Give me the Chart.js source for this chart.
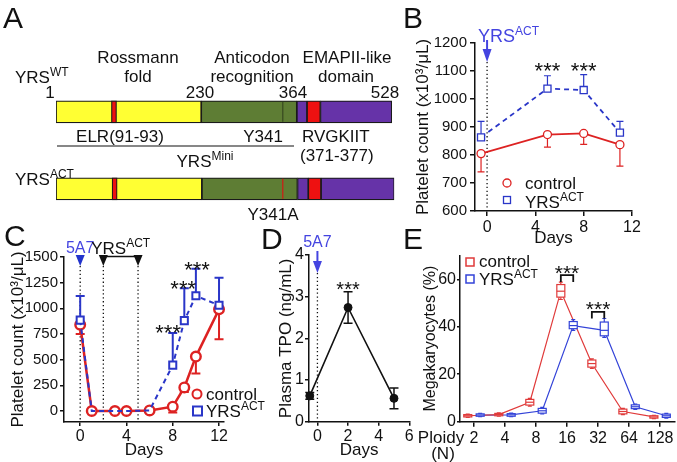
<!DOCTYPE html>
<html><head><meta charset="utf-8">
<script src="https://cdn.jsdelivr.net/npm/chart.js@4.4.1/dist/chart.umd.min.js"></script>
<style>
html,body{margin:0;padding:0;background:#fff;}
#wrap{position:relative;width:677px;height:462px;overflow:hidden;background:#fff;}
#wrap canvas{position:absolute;left:0;top:0;width:677px;height:462px;}
</style></head><body>
<div id="wrap">
<canvas id="cA" width="677" height="462"></canvas>
<canvas id="cB" width="677" height="462"></canvas>
<canvas id="cC" width="677" height="462"></canvas>
<canvas id="cD" width="677" height="462"></canvas>
<canvas id="cE" width="677" height="462"></canvas>
</div>
<script>
// ---------------- DATA ----------------
// Panel A: domain map (diagram units ~ residue numbers)
const A_rows = ['YRS WT', 'YRS ACT'];
const A_yellow = [[1, 229], [1, 230]];
const A_elr = [[88, 96], [89, 97]];
const A_green = [[229, 379], [230, 380]];
const A_purple1 = [[379, 395], [380, 397]];
const A_rvg = [[395, 416], [397, 417]];
const A_purple2 = [[416, 528], [417, 532]];
const A_mark = [357, 357];

// Panel B
const B_days = [-0.5, 5, 8, 11];
const B_ctrl = [805, 873, 877, 837];
const B_ctrlErrLo = [65, 45, 39, 77];
const B_yrs = [863, 1037, 1032, 880];
const B_yrsErrHi = [57, 46, 55, 40];
const B_starDays = [5, 8];
const B_yTicks = [600, 700, 800, 900, 1000, 1100, 1200];
const B_xTicks = [0, 4, 8, 12];

// Panel C
const C_days = [0, 1, 3, 4, 6, 8, 9, 10, 12];
const C_ctrl = [840, 0, 0, 0, 6, 42, 230, 530, 990];
const C_ctrlErrLo = [90, 0, 0, 0, 0, 57, 45, 165, 290];
const C_yrs = [885, 0, 0, 0, 6, 447, 880, 1122, 1030];
const C_yrsErrHi = [235, 0, 0, 0, 0, 313, 315, 263, 267];
const C_starDays = [7.6, 8.9, 10.1];
const C_starVals = [810, 1245, 1430];
const C_dose5A7 = [0];
const C_doseYRS = [2, 5];
const C_yTicks = [0, 250, 500, 750, 1000, 1250, 1500];
const C_xTicks = [0, 4, 8, 12];

// Panel D
const D_days = [-0.5, 2, 5];
const D_tpo = [0.62, 2.74, 0.56];
const D_err = [0.08, 0.38, 0.25];
const D_yTicks = [0, 1, 2, 3, 4];
const D_xTicks = [0, 2, 4, 6];

// Panel E
const E_ploidy = [2, 4, 8, 16, 32, 64, 128];
const E_ctrlMed = [2.5, 3.0, 8.2, 55.0, 24.5, 4.3, 2.0];
const E_ctrlQ1 = [2.0, 2.5, 7.0, 52.5, 23.0, 3.3, 1.5];
const E_ctrlQ3 = [3.0, 3.5, 9.4, 57.8, 26.0, 5.3, 2.5];
const E_ctrlLo = [1.8, 2.3, 6.6, 51.5, 22.5, 3.0, 1.3];
const E_ctrlHi = [3.2, 3.7, 9.8, 58.8, 26.5, 5.6, 2.7];
const E_yrsMed = [2.8, 2.9, 4.6, 40.5, 38.5, 6.3, 2.5];
const E_yrsQ1 = [2.3, 2.3, 3.6, 39.2, 36.2, 5.5, 1.8];
const E_yrsQ3 = [3.3, 3.4, 5.6, 42.2, 42.0, 7.1, 3.2];
const E_yrsLo = [2.1, 2.1, 3.3, 38.5, 35.5, 5.2, 1.5];
const E_yrsHi = [3.5, 3.6, 6.0, 43.0, 43.5, 7.4, 3.5];
const E_starPloidy = [16, 32];
const E_yTicks = [0, 20, 40, 60];

// ---------------- STYLE / HELPERS ----------------
const FF = "'Liberation Sans', Arial, Helvetica, sans-serif";
Chart.defaults.font.family = FF;
Chart.defaults.color = '#111';
Chart.defaults.animation = false;
Chart.defaults.events = [];
Chart.defaults.plugins.legend.display = false;
Chart.defaults.plugins.tooltip.enabled = false;
const W_ = 677, H_ = 462;
const RED = '#dd2222', BLUE = '#2a36c8', TBLUE = '#4444e0', INK = '#111';
const RED_E = '#e03a3a', BLUE_E = '#3343d8';

function frame(area, yTitleX, xTitleY, tsize) {
  const lh = tsize * 1.2;
  const L = yTitleX - lh / 2;
  const Pb = H_ - xTitleY - lh / 2;
  return {padding: {left: L, top: area.t, right: W_ - area.r, bottom: Pb}, yW: area.l - L, xH: H_ - Pb - area.b};
}
function fixedTicks(vals) { return function (scale) { scale.ticks = vals.map(v => ({value: v})); }; }
function gridOpts(tl) { return {display: true, drawOnChartArea: false, drawTicks: true, tickLength: tl, color: INK, lineWidth: 1.5}; }
function axisX(f, min, max, ticks, title, tl, pad, fsize, fmt) {
  return {
    type: 'linear', min: min, max: max,
    afterBuildTicks: fixedTicks(ticks),
    afterFit: s => { s.height = f.xH; },
    grid: gridOpts(tl), border: {display: true, color: INK, width: 1.5},
    ticks: {font: {size: fsize}, padding: pad, color: INK, maxRotation: 0, autoSkip: false, callback: fmt || (v => String(v))},
    title: title ? {display: true, text: title, font: {size: 17}, padding: 0, color: INK} : {display: false}
  };
}
function axisY(f, min, max, ticks, title, tl, pad, fsize, tsize) {
  return {
    type: 'linear', min: min, max: max,
    afterBuildTicks: fixedTicks(ticks),
    afterFit: s => { s.width = f.yW; },
    grid: gridOpts(tl), border: {display: true, color: INK, width: 1.5},
    ticks: {font: {size: fsize}, padding: pad, color: INK, autoSkip: false, callback: v => String(v)},
    title: {display: true, text: title, font: {size: tsize || 17}, padding: 0, color: INK}
  };
}
function txt(ctx, s, x, y, size, align, color, weight) {
  ctx.save();
  ctx.font = (weight || '') + ' ' + size + 'px ' + FF;
  ctx.fillStyle = color || INK; ctx.textAlign = align || 'left'; ctx.textBaseline = 'alphabetic';
  ctx.fillText(s, x, y);
  ctx.restore();
}
function supText(ctx, x, y, base, sup, size, align, color) {
  ctx.save();
  ctx.fillStyle = color || INK; ctx.textBaseline = 'alphabetic'; ctx.textAlign = 'left';
  const ss = Math.round(size * 0.68);
  ctx.font = size + 'px ' + FF; const wb = ctx.measureText(base).width;
  ctx.font = ss + 'px ' + FF; const ws = ctx.measureText(sup).width;
  const tot = wb + ws;
  const x0 = align === 'center' ? x - tot / 2 : (align === 'right' ? x - tot : x);
  ctx.font = size + 'px ' + FF; ctx.fillText(base, x0, y);
  ctx.font = ss + 'px ' + FF; ctx.fillText(sup, x0 + wb, y - size * 0.4);
  ctx.restore();
}
function stars(ctx, x, cy, size) {
  ctx.save();
  ctx.font = size + 'px ' + FF; ctx.fillStyle = INK; ctx.textAlign = 'center'; ctx.textBaseline = 'alphabetic';
  ctx.fillText('***', x, cy + 0.57 * size);
  ctx.restore();
}
function vDotted(ctx, x, y1, y2) {
  ctx.save(); ctx.strokeStyle = INK; ctx.lineWidth = 1.3; ctx.setLineDash([1.3, 2.6]);
  ctx.beginPath(); ctx.moveTo(x, y1); ctx.lineTo(x, y2); ctx.stroke(); ctx.restore();
}
function triDown(ctx, x, yTop, yTip, halfW, color) {
  ctx.save(); ctx.fillStyle = color; ctx.beginPath();
  ctx.moveTo(x - halfW, yTop); ctx.lineTo(x + halfW, yTop); ctx.lineTo(x, yTip); ctx.closePath(); ctx.fill(); ctx.restore();
}
function arrowDown(ctx, x, y0, yBase, yTip, halfW, color) {
  ctx.save(); ctx.strokeStyle = color; ctx.lineWidth = 2; ctx.beginPath(); ctx.moveTo(x, y0); ctx.lineTo(x, yBase + 1); ctx.stroke(); ctx.restore();
  triDown(ctx, x, yBase, yTip, halfW, color);
}
function errBars(chart, xs, ys, lo, hi, color, lw, capHalf) {
  const ctx = chart.ctx, sx = chart.scales.x, sy = chart.scales.y;
  ctx.save(); ctx.strokeStyle = color; ctx.lineWidth = lw; ctx.setLineDash([]);
  xs.forEach((xv, i) => {
    const px = sx.getPixelForValue(xv), pc = sy.getPixelForValue(ys[i]);
    const segs = [];
    if (hi && hi[i] > 0) segs.push(sy.getPixelForValue(ys[i] + hi[i]));
    if (lo && lo[i] > 0) segs.push(sy.getPixelForValue(ys[i] - lo[i]));
    segs.forEach(pe => {
      ctx.beginPath(); ctx.moveTo(px, pc); ctx.lineTo(px, pe);
      ctx.moveTo(px - capHalf, pe); ctx.lineTo(px + capHalf, pe); ctx.stroke();
    });
  });
  ctx.restore();
}
function pxy(xs, ys) { return xs.map((x, i) => ({x: x, y: ys[i]})); }

// ---------------- PANEL A ----------------
const segStyle = (data, color) => ({data: data, backgroundColor: color, borderColor: '#1a1a1a', borderWidth: 1.2, borderSkipped: false, grouped: false, barThickness: 22});
new Chart(document.getElementById('cA'), {
  type: 'bar',
  data: {labels: A_rows, datasets: [
    segStyle(A_elr, '#ee1111'),
    segStyle(A_rvg, '#ee1111'),
    segStyle(A_purple1, '#6633a8'),
    segStyle(A_purple2, '#6633a8'),
    segStyle(A_green, '#5e7d34'),
    segStyle(A_yellow, '#ffff33')
  ]},
  options: {
    responsive: false, devicePixelRatio: 1, indexAxis: 'y',
    layout: {autoPadding: false, padding: {left: 56, right: W_ - 394.3, top: 73.35, bottom: H_ - 227.35}},
    scales: {x: {type: 'linear', min: 1, max: 532, display: false}, y: {type: 'category', display: false, offset: true}}
  },
  plugins: [{id: 'annA', afterDraw(chart) {
    const ctx = chart.ctx, sx = chart.scales.x;
    const meta = chart.getDatasetMeta(0);
    const cols = ['#34441e', '#dd1111'];
    A_mark.forEach((m, i) => {
      const el = meta.data[i]; const px = sx.getPixelForValue(m);
      ctx.save(); ctx.strokeStyle = cols[i]; ctx.lineWidth = 1.1;
      ctx.beginPath(); ctx.moveTo(px, el.y - 10); ctx.lineTo(px, el.y + 10); ctx.stroke(); ctx.restore();
    });
    txt(ctx, 'A', 3, 28, 30);
    txt(ctx, 'Rossmann', 138, 63, 17, 'center');
    txt(ctx, 'fold', 138, 82, 17, 'center');
    txt(ctx, 'Anticodon', 252, 63, 17, 'center');
    txt(ctx, 'recognition', 252, 82, 17, 'center');
    txt(ctx, 'EMAPII-like', 347, 63, 17, 'center');
    txt(ctx, 'domain', 346, 82, 17, 'center');
    supText(ctx, 15, 83, 'YRS', 'WT', 17, 'left');
    txt(ctx, '1', 50, 98, 17, 'center');
    txt(ctx, '230', 200, 98, 17, 'center');
    txt(ctx, '364', 293, 98, 17, 'center');
    txt(ctx, '528', 385, 98, 17, 'center');
    txt(ctx, 'ELR(91-93)', 120, 142, 17, 'center');
    txt(ctx, 'Y341', 263, 142, 17, 'center');
    txt(ctx, 'RVGKIIT', 302, 142, 17, 'left');
    txt(ctx, '(371-377)', 300, 161, 17, 'left');
    ctx.save(); ctx.strokeStyle = INK; ctx.lineWidth = 1.2; ctx.beginPath(); ctx.moveTo(57, 146); ctx.lineTo(294, 146); ctx.stroke(); ctx.restore();
    supText(ctx, 205, 167, 'YRS', 'Mini', 17, 'center');
    supText(ctx, 15, 185, 'YRS', 'ACT', 17, 'left');
    txt(ctx, 'Y341A', 273, 220, 17, 'center');
  }}]
});

// ---------------- PANEL B ----------------
const fB = frame({l: 475, t: 43, r: 632, b: 211}, 423, 238, 17);
new Chart(document.getElementById('cB'), {
  type: 'line',
  data: {datasets: [
    {data: pxy(B_days, B_yrs), borderColor: BLUE, borderDash: [5, 4], borderWidth: 1.8, pointStyle: 'rect', pointRadius: 5, pointBackgroundColor: '#fff', pointBorderColor: BLUE, pointBorderWidth: 1.3, clip: false},
    {data: pxy(B_days, B_ctrl), borderColor: RED, borderWidth: 1.8, pointStyle: 'circle', pointRadius: 4, pointBackgroundColor: '#fff', pointBorderColor: RED, pointBorderWidth: 1.3, clip: false}
  ]},
  options: {
    responsive: false, devicePixelRatio: 1,
    layout: {autoPadding: false, padding: fB.padding},
    scales: {x: axisX(fB, -1, 12, B_xTicks, 'Days', 5, 2, 16), y: axisY(fB, 600, 1200, B_yTicks, 'Platelet count (x10³/μL)', 5, 3, 15)}
  },
  plugins: [{id: 'annB',
    beforeDatasetsDraw(chart) {
      errBars(chart, B_days, B_yrs, null, B_yrsErrHi, BLUE, 1.2, 3.5);
      errBars(chart, B_days, B_ctrl, B_ctrlErrLo, null, RED, 1.2, 3.5);
      const sx = chart.scales.x;
      vDotted(chart.ctx, sx.getPixelForValue(0), 62, chart.chartArea.bottom);
    },
    afterDraw(chart) {
      const ctx = chart.ctx, sx = chart.scales.x, sy = chart.scales.y;
      txt(ctx, 'B', 403, 28, 30);
      const x0 = sx.getPixelForValue(0);
      arrowDown(ctx, x0, 40, 49, 62, 4.5, TBLUE);
      supText(ctx, 478, 42, 'YRS', 'ACT', 18, 'left', TBLUE);
      B_starDays.forEach(d => stars(ctx, sx.getPixelForValue(d), sy.getPixelForValue(1121), 22));
      ctx.save(); ctx.lineWidth = 1.3;
      ctx.strokeStyle = RED; ctx.beginPath(); ctx.arc(507, 183, 4, 0, Math.PI * 2); ctx.stroke();
      ctx.strokeStyle = BLUE; ctx.strokeRect(503.5, 196.5, 7, 7); ctx.restore();
      txt(ctx, 'control', 525, 189, 17);
      supText(ctx, 525, 208, 'YRS', 'ACT', 17, 'left');
    }
  }]
});

// ---------------- PANEL C ----------------
const fC = frame({l: 64, t: 257, r: 224, b: 422}, 18, 450, 17);
new Chart(document.getElementById('cC'), {
  type: 'line',
  data: {datasets: [
    {data: pxy(C_days, C_yrs), borderColor: BLUE, borderDash: [5, 4], borderWidth: 2, pointStyle: 'rect', pointRadius: [5, 0, 0, 0, 0, 5, 5, 5, 5], pointBackgroundColor: '#fff', pointBorderColor: BLUE, pointBorderWidth: 2, clip: false},
    {data: pxy(C_days, C_ctrl), borderColor: RED, borderWidth: 2.5, pointStyle: 'circle', pointRadius: 4.8, pointBackgroundColor: '#fff', pointBorderColor: RED, pointBorderWidth: 2.4, clip: false}
  ]},
  options: {
    responsive: false, devicePixelRatio: 1,
    layout: {autoPadding: false, padding: fC.padding},
    scales: {x: axisX(fC, -1.4, 12.43, C_xTicks, 'Days', 4, 1, 16), y: axisY(fC, -107, 1500, C_yTicks, 'Platelet count (x10³/μL)', 4, 2, 15)}
  },
  plugins: [{id: 'annC',
    beforeDatasetsDraw(chart) {
      const sx = chart.scales.x;
      C_dose5A7.concat(C_doseYRS).forEach(d => vDotted(chart.ctx, sx.getPixelForValue(d), 266, chart.chartArea.bottom));
      errBars(chart, C_days, C_yrs, null, C_yrsErrHi, BLUE, 2, 4.5);
      errBars(chart, C_days, C_ctrl, C_ctrlErrLo, null, RED, 2, 4.5);
    },
    afterDraw(chart) {
      const ctx = chart.ctx, sx = chart.scales.x, sy = chart.scales.y;
      txt(ctx, 'C', 4, 246, 30);
      C_dose5A7.forEach(d => { const x = sx.getPixelForValue(d); triDown(ctx, x, 255, 266, 4.5, '#2233cc'); txt(ctx, '5A7', x, 253, 16, 'center', TBLUE); });
      const xs = C_doseYRS.map(d => sx.getPixelForValue(d));
      ctx.save(); ctx.strokeStyle = INK; ctx.lineWidth = 1.5; ctx.beginPath(); ctx.moveTo(xs[0], 256.5); ctx.lineTo(xs[1], 256.5); ctx.stroke(); ctx.restore();
      xs.forEach(x => triDown(ctx, x, 255, 266, 4.5, INK));
      supText(ctx, (xs[0] + xs[1]) / 2, 254, 'YRS', 'ACT', 17, 'center');
      C_starDays.forEach((d, i) => stars(ctx, sx.getPixelForValue(d), sy.getPixelForValue(C_starVals[i]), 22));
      ctx.save(); ctx.lineWidth = 2;
      ctx.strokeStyle = RED; ctx.beginPath(); ctx.arc(197, 394, 4.5, 0, Math.PI * 2); ctx.stroke();
      ctx.strokeStyle = BLUE; ctx.strokeRect(193, 406.5, 9, 9); ctx.restore();
      txt(ctx, 'control', 206, 400, 17);
      supText(ctx, 206, 417, 'YRS', 'ACT', 17, 'left');
    }
  }]
});

// ---------------- PANEL D ----------------
const fD = frame({l: 309, t: 255, r: 409.3, b: 421.7}, 286, 450.7, 17);
new Chart(document.getElementById('cD'), {
  type: 'line',
  data: {datasets: [
    {data: pxy(D_days, D_tpo), borderColor: INK, borderWidth: 1.6, pointStyle: 'circle', pointRadius: 4, pointBackgroundColor: INK, pointBorderColor: INK, pointBorderWidth: 1, clip: false}
  ]},
  options: {
    responsive: false, devicePixelRatio: 1,
    layout: {autoPadding: false, padding: fD.padding},
    scales: {x: axisX(fD, -0.55, 6, D_xTicks, 'Days', 4, 1, 16), y: axisY(fD, 0, 4, D_yTicks, 'Plasma TPO (ng/mL)', 4, 1, 16)}
  },
  plugins: [{id: 'annD',
    beforeDatasetsDraw(chart) {
      const sx = chart.scales.x;
      vDotted(chart.ctx, sx.getPixelForValue(0), 273, chart.chartArea.bottom);
      errBars(chart, D_days, D_tpo, D_err, D_err, INK, 1.5, 4.5);
    },
    afterDraw(chart) {
      const ctx = chart.ctx, sx = chart.scales.x, sy = chart.scales.y;
      txt(ctx, 'D', 261, 249, 30);
      const x0 = sx.getPixelForValue(0);
      txt(ctx, '5A7', x0, 247, 16, 'center', TBLUE);
      arrowDown(ctx, x0, 251, 261, 273, 4.5, TBLUE);
      stars(ctx, sx.getPixelForValue(2), sy.getPixelForValue(3.28), 20);
    }
  }]
});

// ---------------- PANEL E ----------------
const fE = frame({l: 460, t: 255.6, r: 675, b: 421.7}, 431, 450, 16);
const E_off = 0.2;
const E_xc = E_ploidy.map(p => Math.log2(p) - E_off);
const E_xy = E_ploidy.map(p => Math.log2(p) + E_off);
function boxes(chart, xs, q1, med, q3, lo, hi, color) {
  const ctx = chart.ctx, sx = chart.scales.x, sy = chart.scales.y;
  ctx.save(); ctx.strokeStyle = color; ctx.lineWidth = 1.2; ctx.fillStyle = '#fff';
  xs.forEach((xv, i) => {
    const px = sx.getPixelForValue(xv), hw = 4;
    const yq1 = sy.getPixelForValue(q1[i]), yq3 = sy.getPixelForValue(q3[i]);
    const ylo = sy.getPixelForValue(lo[i]), yhi = sy.getPixelForValue(hi[i]), ym = sy.getPixelForValue(med[i]);
    ctx.beginPath(); ctx.moveTo(px, yq3); ctx.lineTo(px, yhi); ctx.moveTo(px - 2, yhi); ctx.lineTo(px + 2, yhi);
    ctx.moveTo(px, yq1); ctx.lineTo(px, ylo); ctx.moveTo(px - 2, ylo); ctx.lineTo(px + 2, ylo); ctx.stroke();
    ctx.fillRect(px - hw, yq3, 2 * hw, yq1 - yq3);
    ctx.strokeRect(px - hw, yq3, 2 * hw, yq1 - yq3);
    ctx.beginPath(); ctx.moveTo(px - hw, ym); ctx.lineTo(px + hw, ym); ctx.stroke();
  });
  ctx.restore();
}
new Chart(document.getElementById('cE'), {
  type: 'line',
  data: {datasets: [
    {data: pxy(E_xc, E_ctrlMed), borderColor: RED_E, borderWidth: 1.2, pointRadius: 0, clip: false},
    {data: pxy(E_xy, E_yrsMed), borderColor: BLUE_E, borderWidth: 1.2, pointRadius: 0, clip: false}
  ]},
  options: {
    responsive: false, devicePixelRatio: 1,
    layout: {autoPadding: false, padding: fE.padding},
    scales: {
      x: axisX(fE, 0.55, 7.48, [1, 2, 3, 4, 5, 6, 7], null, 5, 2, 16, v => String(Math.pow(2, v))),
      y: axisY(fE, 0, 70, E_yTicks, 'Megakaryocytes (%)', 3, 1, 16, 16)
    }
  },
  plugins: [{id: 'annE',
    afterDatasetsDraw(chart) {
      boxes(chart, E_xc, E_ctrlQ1, E_ctrlMed, E_ctrlQ3, E_ctrlLo, E_ctrlHi, RED_E);
      boxes(chart, E_xy, E_yrsQ1, E_yrsMed, E_yrsQ3, E_yrsLo, E_yrsHi, BLUE_E);
    },
    afterDraw(chart) {
      const ctx = chart.ctx, sx = chart.scales.x, sy = chart.scales.y;
      txt(ctx, 'E', 403, 249, 30);
      txt(ctx, 'Ploidy', 441, 443, 17, 'center');
      txt(ctx, '(N)', 443, 459, 17, 'center');
      const br = [[61.8, 58.9, 64.6], [46.3, 43.5, 49.5]];
      E_starPloidy.forEach((p, i) => {
        const xa = sx.getPixelForValue(Math.log2(p) - E_off), xb = sx.getPixelForValue(Math.log2(p) + E_off);
        const yt = sy.getPixelForValue(br[i][0]), yb = sy.getPixelForValue(br[i][1]);
        ctx.save(); ctx.strokeStyle = INK; ctx.lineWidth = 1.8; ctx.beginPath();
        ctx.moveTo(xa, yb); ctx.lineTo(xa, yt); ctx.lineTo(xb, yt); ctx.lineTo(xb, yb); ctx.stroke(); ctx.restore();
        stars(ctx, (xa + xb) / 2, sy.getPixelForValue(br[i][2]), 21);
      });
      ctx.save(); ctx.lineWidth = 1.5;
      ctx.strokeStyle = RED_E; ctx.strokeRect(466, 258, 8, 8);
      ctx.strokeStyle = BLUE_E; ctx.strokeRect(466, 275, 8, 8); ctx.restore();
      txt(ctx, 'control', 479, 267, 17);
      supText(ctx, 479, 285, 'YRS', 'ACT', 17, 'left');
    }
  }]
});
</script>
</body></html>
